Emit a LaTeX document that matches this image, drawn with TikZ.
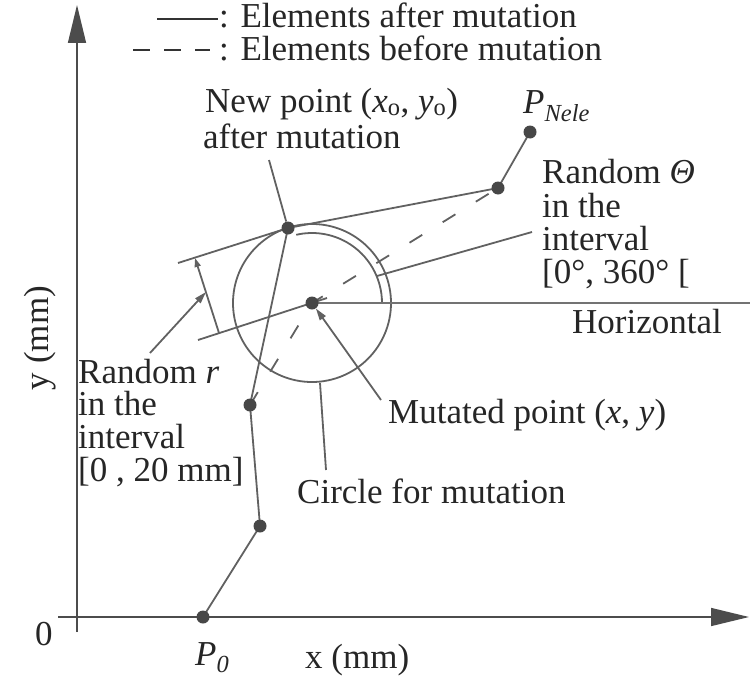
\documentclass[tikz,border=0pt]{standalone}
\usepackage{fontspec}
\setmainfont{Liberation Serif}
\usetikzlibrary{arrows.meta}
\begin{document}
\begin{tikzpicture}[x=1pt,y=-1pt,
  lbl/.style={anchor=base west, inner sep=0pt, font=\fontsize{35}{33}\selectfont, text=black!85},
  ln/.style={line width=1.8pt, draw=black!62},
  thin/.style={line width=1.5pt, draw=black!55},
  axis/.style={line width=1.5pt, draw=black!70},
  pt/.style={circle, fill=black!72, minimum size=13pt, inner sep=0pt},
  tip/.style={-{Triangle[length=12pt,width=7pt]}},
  bigtip/.style={-{Triangle[length=38pt,width=18pt]}}
]
\useasboundingbox (0,0) rectangle (751,677);

% axes
\coordinate (yb) at (77,632);
\coordinate (yt) at (77,5);
\coordinate (xl) at (58,617);
\coordinate (xr) at (749,617);
\draw[axis, bigtip, fill=black] (yb) -- (yt);
\draw[axis, bigtip, fill=black] (xl) -- (xr);

% legend
\coordinate (l1a) at (157,19); \coordinate (l1b) at (218,19);
\coordinate (l2a) at (133,50); \coordinate (l2b) at (210,50);
\draw[line width=1.5pt, black!80] (l1a) -- (l1b);
\draw[line width=1.5pt, black!80, dash pattern=on 17pt off 14pt] (l2a) -- (l2b);
\node[lbl] (leg1) at (219,28) {: Elements after mutation};
\node[lbl] (leg2) at (219,60) {: Elements before mutation};

% points
\coordinate (P0) at (203,617);
\coordinate (P1) at (260,526);
\coordinate (P2) at (250,405);
\coordinate (Pn) at (288,228);
\coordinate (Pm) at (312,303);
\coordinate (P4) at (498,188);
\coordinate (PN) at (530,132);

% circle and angle arc
\draw[ln] (Pm) circle[radius=79pt];
\draw[ln] (Pm) ++(70pt,0pt) arc[start angle=0, end angle=103, radius=70pt];
\draw[thin] (Pm) -- (750,303);

% extension and dimension lines
\coordinate (e1) at (178,263);
\coordinate (e2) at (327,298);
\coordinate (e3) at (198,340);
\coordinate (d1) at (195,258);
\coordinate (d2) at (219,333);
\draw[ln] (Pn) -- (e1);
\draw[ln] (e2) -- (e3);
\draw[ln, -{Triangle[length=9pt,width=6pt]}] (d2) -- (d1);

% chain after mutation
\draw[ln] (P0) -- (P1) -- (P2) -- (Pn) -- (P4) -- (PN);
% chain before mutation
\draw[ln, dash pattern=on 15pt off 24pt] (P2) -- (Pm) -- (P4);

% point markers
\foreach \p in {P0,P1,P2,Pn,Pm,P4,PN} \node[pt] (m\p) at (\p) {};

% leaders
\coordinate (lnA) at (269,160);
\draw[ln] (lnA) -- (mPn);
\coordinate (lrA) at (150,353);
\coordinate (lrB) at (206,292);
\draw[ln, tip] (lrA) -- (lrB);
\coordinate (lmA) at (381,400);
\draw[ln, tip] (lmA) -- (mPm);
\coordinate (lcA) at (320,383);
\coordinate (lcB) at (326,470);
\draw[ln] (lcA) -- (lcB);
\coordinate (ltA) at (377,276);
\coordinate (ltB) at (532,232);
\draw[ln] (ltA) -- (ltB);

% labels
\node[lbl] (newp) at (205,112) {New point (\textit{x}\textsubscript{o}, \textit{y}\textsubscript{o})};
\node[lbl] (newq) at (203,148) {after mutation};
\node[lbl] (pnele) at (523,113) {\textit{P}\textsubscript{\textit{Nele}}};
\node[lbl] (th1) at (542,183) {Random \textit{Θ}};
\node[lbl] (th2) at (542,217) {in the};
\node[lbl] (th3) at (542,250) {interval};
\node[lbl] (th4) at (542,283) {[0°, 360° [};
\node[lbl] (hor) at (572,333) {Horizontal};
\node[lbl] (r1) at (78,383) {Random \textit{r}};
\node[lbl] (r2) at (78,415) {in the};
\node[lbl] (r3) at (78,448) {interval};
\node[lbl] (r4) at (78,481) {[0 , 20 mm]};
\node[lbl] (mut) at (388,423) {Mutated point (\textit{x}, \textit{y})};
\node[lbl] (cir) at (297,503) {Circle for mutation};
\node[lbl] (zero) at (35,645) {0};
\node[lbl] (p0l) at (195,665) {\textit{P}\textsubscript{\textit{0}}};
\node[lbl] (xlab) at (305,668) {x (mm)};
\node[inner sep=0pt, font=\fontsize{35}{33}\selectfont, text=black!85, rotate=90] (ylab) at (40,338) {y (mm)};
\end{tikzpicture}
\end{document}
